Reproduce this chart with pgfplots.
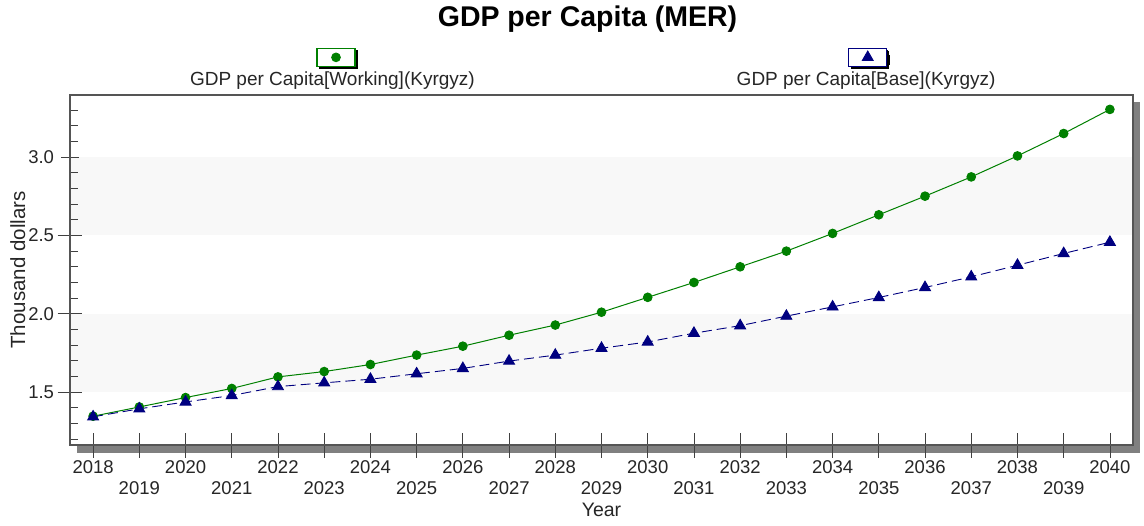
\documentclass[border=0pt]{standalone}
\usepackage{fontspec}
\setmainfont{Liberation Sans}
\usepackage{pgfplots}
\usepackage{pgfplotstable}
\pgfplotsset{compat=1.18}

\definecolor{workgreen}{RGB}{0,128,0}
\definecolor{basenavy}{RGB}{0,0,128}
\definecolor{bandgray}{RGB}{248,248,248}
\definecolor{axisgray}{RGB}{85,85,85}
\definecolor{shadowgray}{RGB}{128,128,128}

% GDP per capita, thousand dollars
\pgfplotstableread{
year working base
2018 1.346 1.342
2019 1.405 1.393
2020 1.465 1.437
2021 1.523 1.478
2022 1.597 1.535
2023 1.631 1.559
2024 1.676 1.582
2025 1.736 1.617
2026 1.793 1.651
2027 1.863 1.698
2028 1.928 1.736
2029 2.010 1.780
2030 2.105 1.820
2031 2.200 1.876
2032 2.300 1.924
2033 2.400 1.985
2034 2.513 2.044
2035 2.632 2.104
2036 2.751 2.168
2037 2.874 2.236
2038 3.008 2.310
2039 3.151 2.385
2040 3.305 2.457
}\gdpdata

% legend box with the mark, drawn above the entry text
\newcommand{\legbox}[1]{%
  \fill[overlay, black] (#1-19pt+2.5pt, 22pt-9pt-2.5pt) rectangle ++(38pt,18pt);
  \draw[overlay, solid, fill=white, line width=1.2pt] (#1-19pt, 22pt-9pt) rectangle ++(38pt,18pt);
  \draw[overlay, solid] plot coordinates {(#1, 22pt)};
}

\begin{document}
\begin{tikzpicture}
\begin{axis}[
    set layers,
    scale only axis,
    width=1063pt, height=350pt,
    xmin=2017.5, xmax=2040.5,
    ymin=1.162, ymax=3.397,
    axis line style={axisgray, line width=1.6pt},
    xtick pos=bottom, ytick pos=left,
    tick style={black!75, line width=0.8pt},
    tick align=center,
    major tick length=25pt,
    minor tick length=8pt,
    major y tick style={shorten <=3.5pt, shorten >=3.5pt},
    minor y tick style={xshift=4.5pt},
    xtick={2018,2020,...,2040},
    extra x ticks={2019,2021,...,2039},
    extra x tick style={xticklabel style={yshift=-21pt}},
    ytick={1.5,2.0,2.5,3.0},
    minor ytick={1.2,1.3,1.4,1.6,1.7,1.8,1.9,2.1,2.2,2.3,2.4,2.6,2.7,2.8,2.9,3.1,3.2,3.3},
    /pgf/number format/assume math mode=true,
    /pgf/number format/1000 sep={},
    yticklabel style={/pgf/number format/.cd, fixed, fixed zerofill, precision=1},
    tick label style={font=\fontsize{18.5}{21}\selectfont, text=black!85},
    xlabel={Year},
    ylabel={Thousand dollars},
    ylabel shift=-4pt,
    xlabel style={font=\fontsize{19.5}{22}\selectfont, text=black!85,
        at={(axis description cs:0.5,0)}, anchor=north, yshift=-55pt},
    ylabel style={font=\fontsize{20.5}{23}\selectfont, text=black!85},
    title={GDP per Capita (MER)},
    title style={font=\bfseries\fontsize{28.5}{32}\selectfont,
        at={(axis description cs:0.4868,1)}, anchor=base, yshift=62pt},
    legend columns=2,
    legend style={at={(0.1129,1)}, anchor=south west, yshift=8pt,
        draw=none, fill=none, inner sep=0pt, outer sep=0pt,
        nodes={inner sep=0pt},
        font=\fontsize{19}{22}\selectfont, text=black!85,
        /tikz/every even column/.append style={column sep=262pt}},
]
\begin{pgfonlayer}{axis background}
  \fill[shadowgray] ([shift={(7pt,-7.5pt)}]rel axis cs:0,0) rectangle ([shift={(7pt,-7.5pt)}]rel axis cs:1,1);
  \fill[white] (rel axis cs:0,0) rectangle (rel axis cs:1,1);
  \fill[bandgray] (axis cs:2017.5,1.5) rectangle (axis cs:2040.5,2.0);
  \fill[bandgray] (axis cs:2017.5,2.5) rectangle (axis cs:2040.5,3.0);
\end{pgfonlayer}

\addplot[workgreen, line width=1pt, mark=*, mark size=4.3pt,
    legend image code/.code={\legbox{146pt}}]
    table[x=year, y=working] {\gdpdata};
\addlegendentry{GDP per Capita[Working](Kyrgyz)}

\addplot[basenavy, line width=0.9pt, dash pattern=on 10pt off 5pt,
    mark=triangle*, mark size=6.3pt, mark options={solid},
    legend image code/.code={\legbox{131pt}}]
    table[x=year, y=base] {\gdpdata};
\addlegendentry{GDP per Capita[Base](Kyrgyz)}
\end{axis}
\pgfresetboundingbox
\path ([shift={(-70pt,-80pt)}]current axis.south west) rectangle ([shift={(11pt,95pt)}]current axis.north east);
\end{tikzpicture}
\end{document}
